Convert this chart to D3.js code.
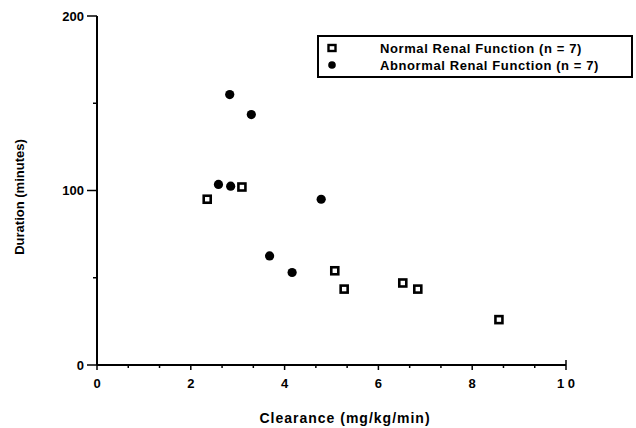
<!DOCTYPE html>
<html>
<head>
<meta charset="utf-8">
<script src="https://cdn.jsdelivr.net/npm/d3@7"></script>
<style>
  body { margin: 0; background: #fff; }
  text { font-family: "Liberation Sans", Arial, sans-serif; font-weight: bold; fill: #000; }
</style>
</head>
<body>
<div class="chart"></div>
<script>
'use strict'
// DATA
const normalX = [2.35, 3.09, 5.07, 5.27, 6.52, 6.84, 8.57];
const normalY = [95, 102, 54, 43.5, 47, 43.5, 26];
const abnormalX = [2.83, 3.29, 2.59, 2.85, 4.78, 3.68, 4.16];
const abnormalY = [155, 143.5, 103.5, 102.5, 95, 62.5, 53];
const xTicks = [0, 2, 4, 6, 8, 10];
const xTickLabels = ['0', '2', '4', '6', '8', '1 0'];
const yTicks = [0, 100, 200];
const yMinorTicks = [50, 150];
const legendLabels = ['Normal Renal Function (n = 7)', 'Abnormal Renal Function (n = 7)'];

const W = 636, H = 428;
const xScale = d3.scaleLinear([0, 10], [97, 566]);
const yScale = d3.scaleLinear([0, 200], [365, 16]);

const svg = d3.select('.chart').append('svg')
  .attr('width', W).attr('height', H);

// X AXIS
const xAxis = svg.append('g').attr('transform', `translate(0, ${yScale(0)})`);
xAxis.append('line')
  .attr('x1', xScale(0)).attr('x2', xScale(10))
  .attr('stroke', '#000').attr('stroke-width', 2);
const xMinor = d3.range(0, 15).map(i => i * 2 / 3).filter(v => v <= 10 && !xTicks.some(t => Math.abs(t - v) < 0.01));
xAxis.selectAll('.xminor').data(xMinor).enter().append('line')
  .attr('x1', d => xScale(d)).attr('x2', d => xScale(d))
  .attr('y1', 0).attr('y2', 3)
  .attr('stroke', '#000').attr('stroke-width', 1.5);
xAxis.selectAll('.xmajor').data(xTicks).enter().append('line')
  .attr('x1', d => xScale(d)).attr('x2', d => xScale(d))
  .attr('y1', d => d === 10 ? -5 : 0).attr('y2', 5)
  .attr('stroke', '#000').attr('stroke-width', 1.5);
xAxis.selectAll('.xlabel').data(xTicks).enter().append('text')
  .attr('x', d => xScale(d)).attr('y', 23)
  .attr('text-anchor', 'middle').style('font-size', '13px')
  .text((d, i) => xTickLabels[i]);

// Y AXIS
const yAxis = svg.append('g').attr('transform', `translate(${xScale(0)}, 0)`);
yAxis.append('line')
  .attr('y1', yScale(0)).attr('y2', yScale(200))
  .attr('stroke', '#000').attr('stroke-width', 2);
yAxis.selectAll('.ymajor').data(yTicks).enter().append('line')
  .attr('y1', d => yScale(d)).attr('y2', d => yScale(d))
  .attr('x1', -10).attr('x2', 0)
  .attr('stroke', '#000').attr('stroke-width', 1.5);
yAxis.selectAll('.yminor').data(yMinorTicks).enter().append('line')
  .attr('y1', d => yScale(d)).attr('y2', d => yScale(d))
  .attr('x1', -4).attr('x2', 0)
  .attr('stroke', '#000').attr('stroke-width', 1.5);
yAxis.selectAll('.ylabel').data(yTicks).enter().append('text')
  .attr('x', -13).attr('y', d => yScale(d)).attr('dy', '0.35em')
  .attr('text-anchor', 'end').style('font-size', '13px')
  .text(d => d);

// AXIS TITLES
svg.append('text')
  .attr('x', 345).attr('y', 423)
  .attr('text-anchor', 'middle').style('font-size', '14px')
  .style('letter-spacing', '1px')
  .text('Clearance (mg/kg/min)');
svg.append('text')
  .attr('transform', 'translate(24, 197) rotate(-90)')
  .attr('text-anchor', 'middle').style('font-size', '13px')
  .text('Duration (minutes)');

// POINTS
const abnormal = abnormalX.map((x, i) => ({ x, y: abnormalY[i] }));
const normal = normalX.map((x, i) => ({ x, y: normalY[i] }));

svg.selectAll('.abn').data(abnormal).enter().append('circle')
  .attr('cx', d => xScale(d.x)).attr('cy', d => yScale(d.y))
  .attr('r', 4.6).attr('fill', '#000');

svg.selectAll('.nor').data(normal).enter().append('rect')
  .attr('x', d => xScale(d.x) - 3.5).attr('y', d => yScale(d.y) - 3.5)
  .attr('width', 7).attr('height', 7)
  .attr('fill', '#fff').attr('stroke', '#000').attr('stroke-width', 2.6);

// LEGEND
const legend = svg.append('g');
legend.append('rect')
  .attr('x', 318).attr('y', 36).attr('width', 314).attr('height', 41)
  .attr('fill', '#fff').attr('stroke', '#000').attr('stroke-width', 2);
legend.append('rect')
  .attr('x', 332 - 3.5).attr('y', 48 - 3).attr('width', 7).attr('height', 6)
  .attr('fill', '#fff').attr('stroke', '#000').attr('stroke-width', 2.4);
legend.append('circle')
  .attr('cx', 332).attr('cy', 65).attr('r', 3.8).attr('fill', '#000');
legend.selectAll('.ltext').data(legendLabels).enter().append('text')
  .attr('x', 380).attr('y', (d, i) => 48 + i * 17).attr('dy', '0.35em')
  .style('font-size', '13px').style('letter-spacing', '0.6px')
  .text(d => d);
</script>
</body>
</html>
